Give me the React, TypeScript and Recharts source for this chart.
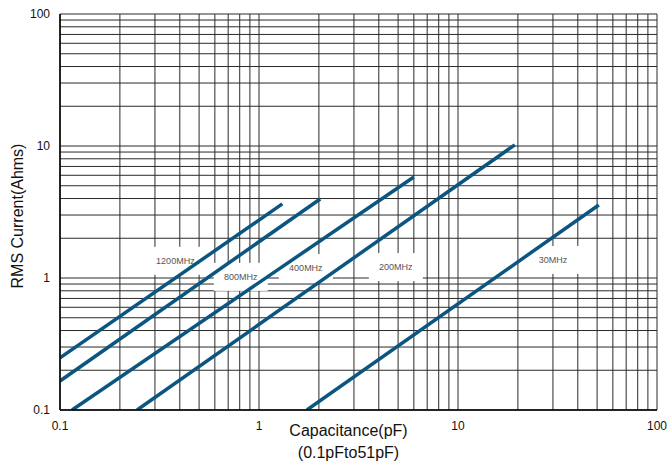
import { LineChart, Line, XAxis, YAxis, CartesianGrid, ReferenceDot } from "recharts"

const names = ['1200MHz', '800MHz', '400MHz', '200MHz', '30MHz']
const capStart = [0.1, 0.1, 0.115, 0.244, 1.74]
const capEnd = [1.31, 2.03, 6.0, 19.3, 51]
const currentStart = [0.248, 0.166, 0.1, 0.1, 0.1]
const currentEnd = [3.64, 3.97, 5.82, 10.2, 3.57]
const labelCap = [0.38, 0.81, 1.72, 4.87, 30]
const labelCurrent = [1.35, 1.02, 1.19, 1.21, 1.37]

const decadeLabels = [0.1, 1, 10, 100]
const gridTicks = [
  0.1, 0.2, 0.3, 0.4, 0.5, 0.6, 0.7, 0.8, 0.9,
  1, 2, 3, 4, 5, 6, 7, 8, 9,
  10, 20, 30, 40, 50, 60, 70, 80, 90,
  100,
]

const font = '"Liberation Sans", Arial, sans-serif'
const blue = '#0b5680'

const fmt = (v: number) => (decadeLabels.includes(v) ? String(v) : '')

// white box behind each frequency label, cuts the grid like the original
function SeriesLabel(props: any) {
  const { viewBox, text } = props
  const x = viewBox.x
  const y = viewBox.y
  return (
    <g>
      <rect x={x - 27} y={y - 14} width={54} height={28} fill="#fff" />
      <text x={x} y={y} textAnchor="middle" dominantBaseline="central"
        fontSize={9} fontFamily={font} fill="#555">{text}</text>
    </g>
  )
}

function XTitle(props: any) {
  const { viewBox } = props
  const cx = viewBox.x + viewBox.width / 2 - 10
  return (
    <g fontFamily={font} fontSize={16} fill="#111" textAnchor="middle">
      <text x={cx} y={viewBox.y + 26}>Capacitance(pF)</text>
      <text x={cx} y={viewBox.y + 48}>(0.1pFto51pF)</text>
    </g>
  )
}

function YTitle(props: any) {
  const { viewBox } = props
  const cy = viewBox.y + viewBox.height / 2 + 4
  return (
    <text x={17} y={cy} transform={`rotate(-90 17 ${cy})`} textAnchor="middle"
      dominantBaseline="central" fontFamily={font} fontSize={16} fill="#111">
      RMS Current(Ahms)
    </text>
  )
}

function App() {
  return (
    <div style={{ position: 'absolute', left: 0, top: 0, background: '#fff' }}>
      <LineChart width={669} height={468} margin={{ top: 14, right: 12, left: 0, bottom: 0 }}>
        <CartesianGrid stroke="#2a2a2a" strokeWidth={1} />
        <XAxis
          type="number"
          dataKey="x"
          scale="log"
          domain={[0.1, 100]}
          allowDataOverflow
          ticks={gridTicks}
          interval={0}
          tickFormatter={fmt}
          tickLine={false}
          tickSize={0}
          tickMargin={11}
          axisLine={{ stroke: '#000', strokeWidth: 1.5 }}
          tick={{ fill: '#111', fontSize: 12, fontFamily: font }}
          height={58}
          label={{ content: XTitle }}
        />
        <YAxis
          type="number"
          dataKey="y"
          scale="log"
          domain={[0.1, 100]}
          allowDataOverflow
          ticks={gridTicks}
          interval={0}
          tickFormatter={fmt}
          tickLine={false}
          tickSize={0}
          tickMargin={10}
          axisLine={{ stroke: '#000', strokeWidth: 1.5 }}
          tick={{ fill: '#111', fontSize: 12, fontFamily: font }}
          width={60}
          label={{ content: YTitle }}
        />
        {names.map((n, i) => (
          <ReferenceDot key={'l' + n} x={labelCap[i]} y={labelCurrent[i]} r={0}
            {...({ zIndex: 100 } as any)}
            fill="none" stroke="none"
            label={{ zIndex: 100, content: (p: any) => <SeriesLabel {...p} text={n} /> } as any} />
        ))}
        {names.map((n, i) => (
          <Line
            key={n}
            name={n}
            data={[
              { x: capStart[i], y: currentStart[i] },
              { x: capEnd[i], y: currentEnd[i] },
            ]}
            dataKey="y"
            stroke={blue}
            strokeWidth={3.5}
            dot={false}
            isAnimationActive={false}
          />
        ))}
      </LineChart>
    </div>
  )
}

export default App
